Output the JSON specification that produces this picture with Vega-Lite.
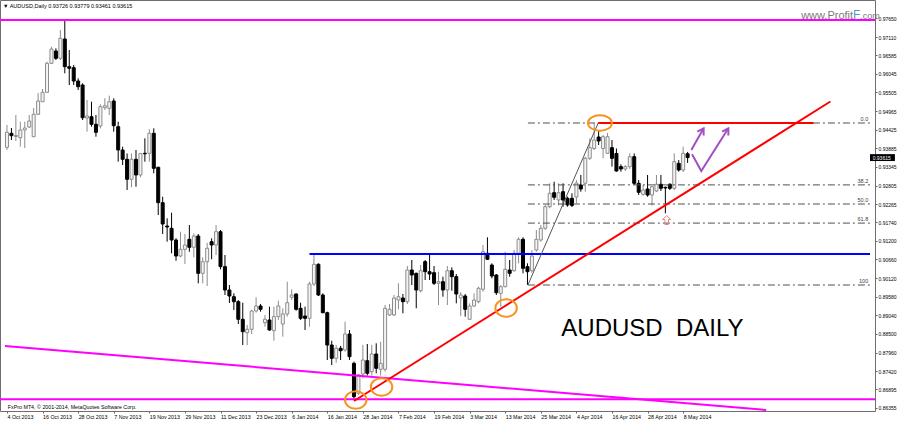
{
"$schema":"https://vega.github.io/schema/vega-lite/v6.json",
"width":875,"height":411,"autosize":{"type":"none"},
"padding":{"left":0,"top":0,"right":25,"bottom":10},
"background":"white",
"title":{"text":"▼ AUDUSD,Daily  0.93726 0.93779 0.93461 0.93615","anchor":"start","frame":"group","orient":"top","offset":-9,"dy":5,"fontSize":5.5,"fontWeight":"normal","color":"black","dx":3,"baseline":"bottom","font":"Liberation Sans"},
"config":{"view":{"stroke":"#6e6e6e"},"font":"Liberation Sans","axis":{"labelOverlap":false,"labelSeparation":0}},
"datasets":{
"candles":[
{"d":"2013-10-04","i":0,"o":0.93913,"h":0.94560,"l":0.93835,"c":0.94348},
{"d":"2013-10-07","i":1,"o":0.94319,"h":0.94473,"l":0.94125,"c":0.94250},
{"d":"2013-10-08","i":2,"o":0.94227,"h":0.94850,"l":0.94096,"c":0.94256},
{"d":"2013-10-09","i":3,"o":0.94192,"h":0.94656,"l":0.93931,"c":0.94415},
{"d":"2013-10-10","i":4,"o":0.94415,"h":0.94656,"l":0.93893,"c":0.94473},
{"d":"2013-10-11","i":5,"o":0.94502,"h":0.94850,"l":0.94473,"c":0.94676},
{"d":"2013-10-14","i":6,"o":0.94221,"h":0.95053,"l":0.94212,"c":0.94870},
{"d":"2013-10-15","i":7,"o":0.94870,"h":0.95488,"l":0.94850,"c":0.95256},
{"d":"2013-10-16","i":8,"o":0.95236,"h":0.95604,"l":0.95227,"c":0.95508},
{"d":"2013-10-17","i":9,"o":0.95508,"h":0.96396,"l":0.95488,"c":0.96349},
{"d":"2013-10-18","i":10,"o":0.96349,"h":0.96831,"l":0.96329,"c":0.96764},
{"d":"2013-10-21","i":11,"o":0.96706,"h":0.96784,"l":0.96445,"c":0.96494},
{"d":"2013-10-22","i":12,"o":0.96494,"h":0.97315,"l":0.96445,"c":0.97074},
{"d":"2013-10-23","i":13,"o":0.97054,"h":0.97591,"l":0.96059,"c":0.96251},
{"d":"2013-10-24","i":14,"o":0.96251,"h":0.96735,"l":0.95720,"c":0.96204},
{"d":"2013-10-25","i":15,"o":0.96222,"h":0.96300,"l":0.95720,"c":0.95836},
{"d":"2013-10-28","i":16,"o":0.95836,"h":0.95914,"l":0.95575,"c":0.95671},
{"d":"2013-10-29","i":17,"o":0.95720,"h":0.95769,"l":0.94705,"c":0.94771},
{"d":"2013-10-30","i":18,"o":0.94763,"h":0.95285,"l":0.94366,"c":0.94821},
{"d":"2013-10-31","i":19,"o":0.94801,"h":0.95236,"l":0.94511,"c":0.94580},
{"d":"2013-11-01","i":20,"o":0.94580,"h":0.94850,"l":0.94221,"c":0.94348},
{"d":"2013-11-04","i":21,"o":0.94531,"h":0.95160,"l":0.94464,"c":0.95091},
{"d":"2013-11-05","i":22,"o":0.95062,"h":0.95334,"l":0.94995,"c":0.95120},
{"d":"2013-11-06","i":23,"o":0.95044,"h":0.95410,"l":0.94850,"c":0.95236},
{"d":"2013-11-07","i":24,"o":0.95256,"h":0.95334,"l":0.94366,"c":0.94540},
{"d":"2013-11-08","i":25,"o":0.94511,"h":0.94656,"l":0.93496,"c":0.93835},
{"d":"2013-11-11","i":26,"o":0.93835,"h":0.93931,"l":0.93400,"c":0.93565},
{"d":"2013-11-12","i":27,"o":0.93565,"h":0.93735,"l":0.92675,"c":0.92985},
{"d":"2013-11-13","i":28,"o":0.92985,"h":0.93735,"l":0.92753,"c":0.93565},
{"d":"2013-11-14","i":29,"o":0.93565,"h":0.93835,"l":0.92771,"c":0.93110},
{"d":"2013-11-15","i":30,"o":0.93110,"h":0.93740,"l":0.93043,"c":0.93735},
{"d":"2013-11-18","i":31,"o":0.93740,"h":0.94174,"l":0.93496,"c":0.93725},
{"d":"2013-11-19","i":32,"o":0.93740,"h":0.94435,"l":0.93496,"c":0.94319},
{"d":"2013-11-20","i":33,"o":0.94319,"h":0.94464,"l":0.93159,"c":0.93304},
{"d":"2013-11-21","i":34,"o":0.93333,"h":0.93352,"l":0.91950,"c":0.92307},
{"d":"2013-11-22","i":35,"o":0.92307,"h":0.92480,"l":0.91399,"c":0.91689},
{"d":"2013-11-25","i":36,"o":0.91631,"h":0.91854,"l":0.91176,"c":0.91602},
{"d":"2013-11-26","i":37,"o":0.91564,"h":0.92017,"l":0.90839,"c":0.91225},
{"d":"2013-11-27","i":38,"o":0.91225,"h":0.91274,"l":0.90625,"c":0.90761},
{"d":"2013-11-28","i":39,"o":0.90761,"h":0.91466,"l":0.90723,"c":0.90955},
{"d":"2013-11-29","i":40,"o":0.90955,"h":0.91399,"l":0.90529,"c":0.91080},
{"d":"2013-12-02","i":41,"o":0.91245,"h":0.91660,"l":0.90885,"c":0.91013},
{"d":"2013-12-03","i":42,"o":0.91013,"h":0.91418,"l":0.90723,"c":0.91341},
{"d":"2013-12-04","i":43,"o":0.91341,"h":0.91399,"l":0.89969,"c":0.90259},
{"d":"2013-12-05","i":44,"o":0.90259,"h":0.90723,"l":0.89969,"c":0.90596},
{"d":"2013-12-06","i":45,"o":0.90596,"h":0.91146,"l":0.89891,"c":0.90984},
{"d":"2013-12-09","i":46,"o":0.91176,"h":0.91274,"l":0.90665,"c":0.91080},
{"d":"2013-12-10","i":47,"o":0.91080,"h":0.91660,"l":0.90790,"c":0.91466},
{"d":"2013-12-11","i":48,"o":0.91466,"h":0.91515,"l":0.90375,"c":0.90452},
{"d":"2013-12-12","i":49,"o":0.90452,"h":0.90790,"l":0.89630,"c":0.89775},
{"d":"2013-12-13","i":50,"o":0.89775,"h":0.89920,"l":0.89398,"c":0.89601},
{"d":"2013-12-16","i":51,"o":0.89581,"h":0.89679,"l":0.89195,"c":0.89436},
{"d":"2013-12-17","i":52,"o":0.89436,"h":0.89485,"l":0.88789,"c":0.88925},
{"d":"2013-12-18","i":53,"o":0.88925,"h":0.89407,"l":0.88180,"c":0.88566},
{"d":"2013-12-19","i":54,"o":0.88537,"h":0.88760,"l":0.88180,"c":0.88635},
{"d":"2013-12-20","i":55,"o":0.88635,"h":0.89195,"l":0.88499,"c":0.89166},
{"d":"2013-12-23","i":56,"o":0.89166,"h":0.89563,"l":0.89118,"c":0.89311},
{"d":"2013-12-24","i":57,"o":0.89311,"h":0.89369,"l":0.89146,"c":0.89215},
{"d":"2013-12-26","i":58,"o":0.88827,"h":0.89050,"l":0.88711,"c":0.88925},
{"d":"2013-12-27","i":59,"o":0.88905,"h":0.89291,"l":0.88595,"c":0.88615},
{"d":"2013-12-30","i":60,"o":0.88595,"h":0.89291,"l":0.88305,"c":0.89002},
{"d":"2013-12-31","i":61,"o":0.89002,"h":0.89465,"l":0.88905,"c":0.89311},
{"d":"2014-01-02","i":62,"o":0.88789,"h":0.89244,"l":0.88421,"c":0.89079},
{"d":"2014-01-03","i":63,"o":0.89079,"h":0.90016,"l":0.89002,"c":0.89407},
{"d":"2014-01-06","i":64,"o":0.89563,"h":0.89795,"l":0.89485,"c":0.89630},
{"d":"2014-01-07","i":65,"o":0.89659,"h":0.89679,"l":0.89175,"c":0.89215},
{"d":"2014-01-08","i":66,"o":0.89244,"h":0.89407,"l":0.88905,"c":0.88954},
{"d":"2014-01-09","i":67,"o":0.89021,"h":0.89291,"l":0.88615,"c":0.88954},
{"d":"2014-01-10","i":68,"o":0.88954,"h":0.90016,"l":0.88711,"c":0.89949},
{"d":"2014-01-13","i":69,"o":0.89949,"h":0.90839,"l":0.89891,"c":0.90520},
{"d":"2014-01-14","i":70,"o":0.90520,"h":0.90549,"l":0.89601,"c":0.89630},
{"d":"2014-01-15","i":71,"o":0.89630,"h":0.89679,"l":0.89099,"c":0.89117},
{"d":"2014-01-16","i":72,"o":0.89117,"h":0.89146,"l":0.87745,"c":0.88180},
{"d":"2014-01-17","i":73,"o":0.88180,"h":0.88305,"l":0.87600,"c":0.87794},
{"d":"2014-01-20","i":74,"o":0.87794,"h":0.88180,"l":0.87667,"c":0.88084},
{"d":"2014-01-21","i":75,"o":0.88084,"h":0.88151,"l":0.87745,"c":0.88015},
{"d":"2014-01-22","i":76,"o":0.88035,"h":0.88856,"l":0.87986,"c":0.88499},
{"d":"2014-01-23","i":77,"o":0.88499,"h":0.88615,"l":0.87745,"c":0.87841},
{"d":"2014-01-24","i":78,"o":0.87649,"h":0.87696,"l":0.86600,"c":0.86680},
{"d":"2014-01-27","i":79,"o":0.86779,"h":0.87339,"l":0.86730,"c":0.87310},
{"d":"2014-01-28","i":80,"o":0.87339,"h":0.88180,"l":0.87213,"c":0.87745},
{"d":"2014-01-29","i":81,"o":0.87725,"h":0.88209,"l":0.87295,"c":0.87359},
{"d":"2014-01-30","i":82,"o":0.87407,"h":0.88180,"l":0.87295,"c":0.87919},
{"d":"2014-01-31","i":83,"o":0.87919,"h":0.88229,"l":0.87359,"c":0.87504},
{"d":"2014-02-03","i":84,"o":0.87475,"h":0.88276,"l":0.87295,"c":0.87649},
{"d":"2014-02-04","i":85,"o":0.87475,"h":0.89341,"l":0.87407,"c":0.89244},
{"d":"2014-02-05","i":86,"o":0.89050,"h":0.89369,"l":0.89021,"c":0.89215},
{"d":"2014-02-06","i":87,"o":0.89050,"h":0.89630,"l":0.89021,"c":0.89543},
{"d":"2014-02-07","i":88,"o":0.89485,"h":0.89969,"l":0.89215,"c":0.89581},
{"d":"2014-02-10","i":89,"o":0.89543,"h":0.89659,"l":0.89099,"c":0.89436},
{"d":"2014-02-11","i":90,"o":0.89436,"h":0.90471,"l":0.89369,"c":0.90355},
{"d":"2014-02-12","i":91,"o":0.90355,"h":0.90645,"l":0.89920,"c":0.90210},
{"d":"2014-02-13","i":92,"o":0.90259,"h":0.90277,"l":0.89244,"c":0.89775},
{"d":"2014-02-14","i":93,"o":0.89755,"h":0.90500,"l":0.89698,"c":0.90335},
{"d":"2014-02-17","i":94,"o":0.90596,"h":0.90645,"l":0.90065,"c":0.90306},
{"d":"2014-02-18","i":95,"o":0.90306,"h":0.90790,"l":0.90065,"c":0.90239},
{"d":"2014-02-19","i":96,"o":0.90277,"h":0.90471,"l":0.89920,"c":0.89969},
{"d":"2014-02-20","i":97,"o":0.89969,"h":0.90306,"l":0.89340,"c":0.90016},
{"d":"2014-02-21","i":98,"o":0.90016,"h":0.90161,"l":0.89581,"c":0.89775},
{"d":"2014-02-24","i":99,"o":0.89775,"h":0.90471,"l":0.89340,"c":0.90335},
{"d":"2014-02-25","i":100,"o":0.90335,"h":0.90433,"l":0.89755,"c":0.90161},
{"d":"2014-02-26","i":101,"o":0.90161,"h":0.90239,"l":0.89389,"c":0.89659},
{"d":"2014-02-27","i":102,"o":0.89543,"h":0.89717,"l":0.89021,"c":0.89630},
{"d":"2014-02-28","i":103,"o":0.89601,"h":0.89659,"l":0.89002,"c":0.89215},
{"d":"2014-03-03","i":104,"o":0.88925,"h":0.89389,"l":0.88905,"c":0.89311},
{"d":"2014-03-04","i":105,"o":0.89311,"h":0.89679,"l":0.89291,"c":0.89485},
{"d":"2014-03-05","i":106,"o":0.89436,"h":0.89871,"l":0.89389,"c":0.89824},
{"d":"2014-03-06","i":107,"o":0.89795,"h":0.91080,"l":0.89726,"c":0.90885},
{"d":"2014-03-07","i":108,"o":0.90839,"h":0.91303,"l":0.90645,"c":0.90665},
{"d":"2014-03-10","i":109,"o":0.90500,"h":0.90549,"l":0.90114,"c":0.90181},
{"d":"2014-03-11","i":110,"o":0.90210,"h":0.90239,"l":0.89630,"c":0.89697},
{"d":"2014-03-12","i":111,"o":0.89679,"h":0.89920,"l":0.89291,"c":0.89871},
{"d":"2014-03-13","i":112,"o":0.89871,"h":0.90885,"l":0.89853,"c":0.90375},
{"d":"2014-03-14","i":113,"o":0.90355,"h":0.90645,"l":0.90161,"c":0.90259},
{"d":"2014-03-17","i":114,"o":0.90335,"h":0.90935,"l":0.90306,"c":0.90839},
{"d":"2014-03-18","i":115,"o":0.90839,"h":0.91303,"l":0.90549,"c":0.91245},
{"d":"2014-03-19","i":116,"o":0.91245,"h":0.91303,"l":0.90259,"c":0.90404},
{"d":"2014-03-20","i":117,"o":0.90452,"h":0.90549,"l":0.89920,"c":0.90306},
{"d":"2014-03-21","i":118,"o":0.90335,"h":0.90935,"l":0.90277,"c":0.90761},
{"d":"2014-03-24","i":119,"o":0.90935,"h":0.91515,"l":0.90885,"c":0.91245},
{"d":"2014-03-25","i":120,"o":0.91225,"h":0.91660,"l":0.91176,"c":0.91564},
{"d":"2014-03-26","i":121,"o":0.91564,"h":0.92240,"l":0.91515,"c":0.92191},
{"d":"2014-03-27","i":122,"o":0.92191,"h":0.92869,"l":0.92144,"c":0.92579},
{"d":"2014-03-28","i":123,"o":0.92597,"h":0.92916,"l":0.92385,"c":0.92463},
{"d":"2014-03-31","i":124,"o":0.92385,"h":0.92869,"l":0.92229,"c":0.92597},
{"d":"2014-04-01","i":125,"o":0.92626,"h":0.92869,"l":0.92191,"c":0.92385},
{"d":"2014-04-02","i":126,"o":0.92434,"h":0.92481,"l":0.92191,"c":0.92240},
{"d":"2014-04-03","i":127,"o":0.92434,"h":0.92579,"l":0.92182,"c":0.92229},
{"d":"2014-04-04","i":128,"o":0.92472,"h":0.92965,"l":0.92298,"c":0.92878},
{"d":"2014-04-07","i":129,"o":0.92820,"h":0.93110,"l":0.92626,"c":0.92704},
{"d":"2014-04-08","i":130,"o":0.92869,"h":0.93641,"l":0.92626,"c":0.93594},
{"d":"2014-04-09","i":131,"o":0.93594,"h":0.94174,"l":0.93545,"c":0.93902},
{"d":"2014-04-10","i":132,"o":0.93879,"h":0.94618,"l":0.93835,"c":0.94125},
{"d":"2014-04-11","i":133,"o":0.94212,"h":0.94415,"l":0.93980,"c":0.94096},
{"d":"2014-04-14","i":134,"o":0.93879,"h":0.94270,"l":0.93594,"c":0.94221},
{"d":"2014-04-15","i":135,"o":0.93740,"h":0.94328,"l":0.93735,"c":0.94221},
{"d":"2014-04-16","i":136,"o":0.93902,"h":0.94125,"l":0.93352,"c":0.93594},
{"d":"2014-04-17","i":137,"o":0.93735,"h":0.93879,"l":0.93206,"c":0.93226},
{"d":"2014-04-18","i":138,"o":0.93352,"h":0.93420,"l":0.93206,"c":0.93284},
{"d":"2014-04-21","i":139,"o":0.93284,"h":0.93400,"l":0.93226,"c":0.93352},
{"d":"2014-04-22","i":140,"o":0.93352,"h":0.93740,"l":0.93284,"c":0.93641},
{"d":"2014-04-23","i":141,"o":0.93641,"h":0.93735,"l":0.92820,"c":0.92869},
{"d":"2014-04-24","i":142,"o":0.92869,"h":0.92965,"l":0.92530,"c":0.92608},
{"d":"2014-04-25","i":143,"o":0.92550,"h":0.92820,"l":0.92510,"c":0.92675},
{"d":"2014-04-28","i":144,"o":0.92704,"h":0.93110,"l":0.92480,"c":0.92530},
{"d":"2014-04-29","i":145,"o":0.92530,"h":0.92791,"l":0.92229,"c":0.92771},
{"d":"2014-04-30","i":146,"o":0.92646,"h":0.93110,"l":0.92617,"c":0.92841},
{"d":"2014-05-01","i":147,"o":0.92841,"h":0.93110,"l":0.92646,"c":0.92724},
{"d":"2014-05-02","i":148,"o":0.92753,"h":0.92771,"l":0.92000,"c":0.92733},
{"d":"2014-05-05","i":149,"o":0.92841,"h":0.92869,"l":0.92675,"c":0.92724},
{"d":"2014-05-06","i":150,"o":0.92724,"h":0.93740,"l":0.92675,"c":0.93496},
{"d":"2014-05-07","i":151,"o":0.93449,"h":0.93545,"l":0.93206,"c":0.93255},
{"d":"2014-05-08","i":152,"o":0.93255,"h":0.93931,"l":0.93197,"c":0.93740},
{"d":"2014-05-09","i":153,"o":0.93726,"h":0.93779,"l":0.93461,"c":0.93615}
]},
"layer":[
{"data":{"name":"candles"},"mark":{"type":"rule","strokeWidth":1},
 "encoding":{
  "x":{"field":"i","type":"quantitative","title":null,"scale":{"domain":[-0.4444,194.0],"nice":false,"zero":false},
   "axis":{"orient":"bottom","values":[0,8,16,24,32,40,48,56,64,72,80,88,96,104,112,120,128,136,144,152],"tickCount":40,
    "labelExpr":"['4 Oct 2013','16 Oct 2013','28 Oct 2013','7 Nov 2013','19 Nov 2013','29 Nov 2013','11 Dec 2013','23 Dec 2013','6 Jan 2014','16 Jan 2014','28 Jan 2014','7 Feb 2014','19 Feb 2014','3 Mar 2014','13 Mar 2014','25 Mar 2014','4 Apr 2014','16 Apr 2014','28 Apr 2014','8 May 2014'][round(datum.value/8)]",
    "labelAlign":"left","labelBaseline":"top","labelFontSize":5.3,"labelFont":"Liberation Sans","labelColor":"black","tickSize":2,"tickColor":"#666","labelPadding":1,"domain":false,"grid":false,"labelOverlap":false,"labelFlush":false,"title":null}},
  "y":{"field":"l","type":"quantitative","title":null,"scale":{"domain":[0.86266,0.98185],"nice":false,"zero":false},
   "axis":{"orient":"right","values":[0.86355,0.86895,0.8742,0.8796,0.885,0.8904,0.8958,0.9012,0.9066,0.912,0.9174,0.92265,0.92805,0.93345,0.93885,0.94425,0.94965,0.95505,0.96045,0.96585,0.9711,0.9765],"tickCount":40,
    "format":".5f","labelFontSize":5,"labelFont":"Liberation Sans","labelColor":"black","tickSize":2,"tickColor":"#666","labelPadding":1,"domain":false,"grid":false,"labelOverlap":false,"labelSeparation":0,"labelFlush":false,"labelBaseline":"middle","title":null}},
  "y2":{"field":"h"},
  "color":{"condition":{"test":"datum.c >= datum.o","value":"#8c8c8c"},"value":"black"}
 }},
{"data":{"name":"candles"},"mark":{"type":"bar","size":3,"strokeWidth":1},
 "encoding":{
  "x":{"field":"i","type":"quantitative","title":null},
  "y":{"field":"o","type":"quantitative","title":null},
  "y2":{"field":"c"},
  "fill":{"condition":{"test":"datum.c >= datum.o","value":"#f4f4f4"},"value":"black"},
  "stroke":{"condition":{"test":"datum.c >= datum.o","value":"#8c8c8c"},"value":"black"}
 }},
{"data":{"values":[{"p":0.97605},{"p":0.8661}]},"mark":{"type":"rule","color":"#ff00ff","strokeWidth":2},
 "encoding":{"y":{"field":"p","type":"quantitative","title":null}}},
{"data":{"values":[{"x":-0.4444,"p":0.88151},{"x":170.67,"p":0.86295}]},"mark":{"type":"line","color":"#ff00ff","strokeWidth":2,"clip":true},
 "encoding":{"x":{"field":"x","type":"quantitative","title":null},"y":{"field":"p","type":"quantitative","title":null}}},
{"data":{"values":[{"x1":68,"x2":194,"p1":0.90819,"p2":0.90819}]},"mark":{"type":"rule","color":"#0000ff","strokeWidth":2},
 "encoding":{"x":{"field":"x1","type":"quantitative","title":null},"x2":{"field":"x2"},"y":{"field":"p1","type":"quantitative","title":null},"y2":{"field":"p2"}}},
{"data":{"values":[{"x1":117.1,"x2":194,"p":0.94618},{"x1":117.1,"x2":194,"p":0.92823},{"x1":117.1,"x2":194,"p":0.92269},{"x1":117.1,"x2":194,"p":0.91715},{"x1":117.1,"x2":194,"p":0.8992}]},
 "mark":{"type":"rule","color":"#505050","strokeWidth":1,"strokeDash":[7,3,2,3]},
 "encoding":{"x":{"field":"x1","type":"quantitative","title":null},"x2":{"field":"x2"},"y":{"field":"p","type":"quantitative","title":null}}},
{"data":{"values":[{"x1":117.1,"x2":132.9,"p1":0.8992,"p2":0.94618}]},"mark":{"type":"rule","color":"#555555","strokeWidth":1},
 "encoding":{"x":{"field":"x1","type":"quantitative","title":null},"x2":{"field":"x2"},"y":{"field":"p1","type":"quantitative","title":null},"y2":{"field":"p2"}}},
{"data":{"values":[{"x1":132.9,"x2":181.3,"p1":0.94618,"p2":0.94618},{"x1":78.0,"x2":185.1,"p1":0.86556,"p2":0.95242}]},"mark":{"type":"rule","color":"#ff0000","strokeWidth":2},
 "encoding":{"x":{"field":"x1","type":"quantitative","title":null},"x2":{"field":"x2"},"y":{"field":"p1","type":"quantitative","title":null},"y2":{"field":"p2"}}},
{"data":{"values":[{"x":78.4,"p":0.86585},{"x":84.2,"p":0.86962},{"x":112.2,"p":0.89253}]},
 "mark":{"type":"point","filled":false,"stroke":"#f7931e","strokeWidth":2,"opacity":1,"size":462,"shape":"M -1 0 C -1 -0.453 -0.552 -0.82 0 -0.82 C 0.552 -0.82 1 -0.453 1 0 C 1 0.453 0.552 0.82 0 0.82 C -0.552 0.82 -1 0.453 -1 0 Z"},
 "encoding":{"x":{"field":"x","type":"quantitative","title":null},"y":{"field":"p","type":"quantitative","title":null}}},
{"data":{"values":[{"x":133.3,"p":0.94618}]},
 "mark":{"type":"point","filled":false,"stroke":"#f7931e","strokeWidth":2,"opacity":1,"size":576,"shape":"M -1 0 C -1 -0.359 -0.552 -0.65 0 -0.65 C 0.552 -0.65 1 -0.359 1 0 C 1 0.359 0.552 0.65 0 0.65 C -0.552 0.65 -1 0.359 -1 0 Z"},
 "encoding":{"x":{"field":"x","type":"quantitative","title":null},"y":{"field":"p","type":"quantitative","title":null}}},
{"data":{"values":[{"seg":1,"k":0,"x":153.84,"p":0.93835},{"seg":1,"k":1,"x":156.6,"p":0.94464},{"seg":2,"k":0,"x":154.0,"p":0.9371},{"seg":2,"k":1,"x":156.07,"p":0.93226},{"seg":2,"k":2,"x":162.16,"p":0.94464}]},
 "mark":{"type":"line","color":"#a24fc4","strokeWidth":2},
 "encoding":{"x":{"field":"x","type":"quantitative","title":null},"y":{"field":"p","type":"quantitative","title":null},"detail":{"field":"seg"},"order":{"field":"k"}}},
{"data":{"values":[{"x":156.6,"p":0.94464},{"x":162.16,"p":0.94464}]},
 "mark":{"type":"point","filled":false,"stroke":"#a24fc4","strokeWidth":2,"opacity":1,"size":150,"angle":31,"shape":"M -0.6 1 L 0 0 L 0.6 1"},
 "encoding":{"x":{"field":"x","type":"quantitative","title":null},"y":{"field":"p","type":"quantitative","title":null}}},
{"data":{"values":[{"x":148.3,"p":0.91805}]},
 "mark":{"type":"point","filled":false,"stroke":"#f08080","strokeWidth":1,"opacity":1,"size":81,"shape":"M 0 -1 L 0.9 -0.1 L 0.4 -0.1 L 0.4 1 L -0.4 1 L -0.4 -0.1 L -0.9 -0.1 Z"},
 "encoding":{"x":{"field":"x","type":"quantitative","title":null},"y":{"field":"p","type":"quantitative","title":null}}},
{"data":{"values":[{"x":193.6,"p":0.94618,"t":"0.0"},{"x":193.6,"p":0.92823,"t":"38.2"},{"x":193.6,"p":0.92269,"t":"50.0"},{"x":193.6,"p":0.91715,"t":"61.8"},{"x":193.6,"p":0.8992,"t":"100"}]},
 "mark":{"type":"text","align":"right","baseline":"bottom","dy":-1,"fontSize":5.5,"color":"#404040"},
 "encoding":{"x":{"field":"x","type":"quantitative","title":null},"y":{"field":"p","type":"quantitative","title":null},"text":{"field":"t"}}},
{"data":{"values":[{"x":145.1,"p":0.88644,"t":"AUDUSD\u00a0\u00a0DAILY"}]},
 "mark":{"type":"text","align":"center","baseline":"middle","fontSize":24,"color":"black","font":"Liberation Sans"},
 "encoding":{"x":{"field":"x","type":"quantitative","title":null},"y":{"field":"p","type":"quantitative","title":null},"text":{"field":"t"}}},
{"data":{"values":[{"x":0.2,"p":0.86391,"t":"FxPro MT4, © 2001-2014, MetaQuotes Software Corp."}]},
 "mark":{"type":"text","align":"left","baseline":"middle","fontSize":5.3,"color":"black"},
 "encoding":{"x":{"field":"x","type":"quantitative","title":null},"y":{"field":"p","type":"quantitative","title":null},"text":{"field":"t"}}},
{"data":{"values":[{"x":194.0,"x2":199.6,"p1":0.93715,"p2":0.93515}]},
 "mark":{"type":"rect","color":"black","clip":false},
 "encoding":{"x":{"field":"x","type":"quantitative","title":null},"x2":{"field":"x2"},"y":{"field":"p1","type":"quantitative","title":null},"y2":{"field":"p2"}}},
{"data":{"values":[{"x":194.6,"p":0.93615,"t":"0.93615"}]},
 "mark":{"type":"text","align":"left","baseline":"middle","fontSize":5,"color":"white","clip":false},
 "encoding":{"x":{"field":"x","type":"quantitative","title":null},"y":{"field":"p","type":"quantitative","title":null},"text":{"field":"t"}}},
{"data":{"values":[{"x":190.2,"p":0.97634,"t":"www.Profit"}]},
 "mark":{"type":"text","align":"right","baseline":"alphabetic","fontSize":11,"color":"#7a7a7a","clip":false},
 "encoding":{"x":{"field":"x","type":"quantitative","title":null},"y":{"field":"p","type":"quantitative","title":null},"text":{"field":"t"}}},
{"data":{"values":[{"x":190.2,"p":0.97634,"t":"F"}]},
 "mark":{"type":"text","align":"left","baseline":"alphabetic","fontSize":12,"color":"#4a9cc6","clip":false},
 "encoding":{"x":{"field":"x","type":"quantitative","title":null},"y":{"field":"p","type":"quantitative","title":null},"text":{"field":"t"}}},
{"data":{"values":[{"x":191.8,"p":0.97634,"t":".com"}]},
 "mark":{"type":"text","align":"left","baseline":"alphabetic","fontSize":9,"color":"#7a7a7a","clip":false},
 "encoding":{"x":{"field":"x","type":"quantitative","title":null},"y":{"field":"p","type":"quantitative","title":null},"text":{"field":"t"}}}
]
}
